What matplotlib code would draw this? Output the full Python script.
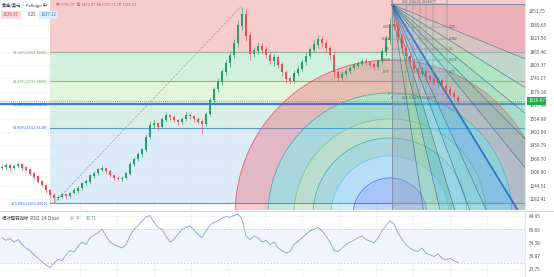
import numpy as np
import matplotlib.pyplot as plt
from matplotlib.patches import Polygon

plt.rcParams['font.family'] = ['Noto Sans CJK SC', 'DejaVu Sans']

# daily closes, one per bar
close = [1330, 1338, 1325, 1335, 1342, 1328, 1318, 1300, 1285, 1262,
         1245, 1222, 1200, 1185, 1192, 1202, 1196, 1210, 1220, 1232,
         1255, 1262, 1290, 1302, 1318, 1325, 1310, 1292, 1280, 1276,
         1280, 1300, 1342, 1368, 1390, 1410, 1470, 1525, 1532, 1518,
         1550, 1568, 1560, 1548, 1538, 1552, 1570, 1565, 1552, 1540,
         1530, 1575, 1640, 1690, 1725, 1772, 1812, 1850, 1905, 1985,
         2040, 1940, 1855, 1870, 1892, 1875, 1850, 1822, 1840, 1805,
         1770, 1740, 1730, 1765, 1785, 1815, 1845, 1875, 1898, 1920,
         1905, 1880, 1850, 1770, 1745, 1760, 1775, 1790, 1800, 1810,
         1822, 1815, 1805, 1795, 1820, 1865, 1920, 1990, 1985, 1935,
         1880, 1845, 1815, 1785, 1762, 1775, 1750, 1735, 1722, 1730,
         1705, 1690, 1672, 1655, 1637]
first_open = 1324
wick_hi = [8, 10, 6, 9, 12, 5, 7, 10, 6, 8,
           9, 6, 8, 12, 7, 10, 9, 6, 11, 8,
           7, 12, 9, 8, 10, 14, 6, 9, 7, 10,
           8, 6, 11, 9, 12, 10, 15, 18, 14, 9,
           12, 16, 8, 10, 7, 11, 14, 9, 8, 10,
           12, 10, 15, 12, 18, 14, 16, 20, 18, 25,
           30, 22, 15, 18, 20, 12, 15, 18, 12, 10,
           14, 12, 10, 16, 12, 15, 18, 14, 20, 22,
           18, 15, 12, 20, 10, 14, 12, 9, 11, 13,
           10, 15, 8, 12, 10, 18, 22, 30, 28, 20,
           18, 15, 12, 20, 14, 18, 10, 12, 14, 16,
           12, 10, 15, 9, 8]
wick_lo = [7, 9, 12, 6, 8, 10, 7, 9, 11, 6,
           8, 10, 7, 15, 9, 6, 12, 8, 7, 10,
           9, 7, 10, 12, 8, 6, 11, 9, 12, 8,
           10, 7, 9, 8, 11, 13, 10, 12, 16, 14,
           9, 11, 13, 8, 12, 10, 9, 14, 11, 12,
           45, 12, 10, 14, 12, 16, 13, 18, 15, 20,
           18, 25, 28, 15, 18, 20, 16, 12, 22, 15,
           18, 20, 16, 12, 14, 10, 12, 15, 13, 16,
           20, 18, 22, 25, 18, 12, 10, 14, 9, 12,
           11, 14, 10, 16, 12, 10, 14, 18, 20, 25,
           22, 18, 20, 15, 22, 14, 18, 16, 12, 20,
           14, 18, 12, 16, 10]
rsi = [60, 57, 59, 55, 58, 52, 48, 45, 40, 36,
       32, 28, 25, 30, 35, 33, 40, 45, 43, 50,
       55, 52, 60, 63, 66, 70, 62, 55, 52, 50,
       48, 52, 62, 70, 74, 80, 84, 86, 78, 72,
       70, 62, 55, 58, 64, 70, 72, 74, 69, 64,
       60, 68, 75, 78, 80, 83, 85, 84, 86, 88,
       82, 62, 58, 62, 60, 55, 57, 52, 55, 48,
       45, 42, 44, 52, 56, 60, 64, 68, 70, 72,
       68, 62, 55, 45, 44, 48, 52, 55, 57, 60,
       62, 58, 56, 54, 60, 68, 74, 80, 76, 66,
       58, 52, 48, 45, 44, 48, 42, 40, 38, 41,
       36, 34, 36, 33, 31]

price_ticks = [1182.41, 1244.51, 1306.60, 1368.70, 1430.79, 1492.89, 1554.98, 1617.08,
               1679.18, 1741.27, 1803.37, 1865.46, 1927.56, 1989.65, 2051.75]
rsi_ticks = [23.75, 39.07, 54.38, 69.66, 84.95]

fib_high, fib_low = 2079.0, 1163.0
fib_start = 12.0
fib_levels = [0.0, 0.236, 0.382, 0.5, 0.618, 1.0]
fib_labels = ['', '23.60%(1862.8240)', '38.20%(1729.0880)', '50.00%(1621.0000)',
              '61.80%(1512.9120)', '100.00%(1163.0000)']
fib_fill = ['#f6c4c4', '#cbeed9', '#ddf4d6', '#d3ebe2', '#d7e8f7']
fib_line = ['#e57373', '#8fb59a', '#8bc34a', '#3b7dd8', '#5b9bd5', '#5b9bd5']
fib_text = ['#e57373', '#4caf50', '#4caf50', '#2962ff', '#2962ff', '#2962ff']
last_price = 1636.97

# speed resistance fan (origin, box size in bars / price)
fan_x0, fan_y0 = 97.5, 2084.0
fan_w, fan_h = 13.75, 417.0
fan_levels = [0.25, 0.382, 0.5, 0.618, 0.75]
fan_fill = ['#d9899c', '#a9b3b3', '#7fcf9f', '#5fbf9f', '#4db6ac', '#6cc3cf',
            '#4f9fe8', '#48bde8', '#7fd0f5', '#4db6ac', '#88c98a', '#8fa8b5']

# arcs: centre (bar, price) and radii in pixels
arc_cx, arc_cy = 97.0, 1108.3
arc_r = [37, 59, 77, 96, 122, 155]
arc_col = ['#2962ff', '#4fc3f7', '#26a69a', '#66bb6a', '#26a69a', '#f23645']
px_bar, px_price = 4.0, 4.634

up_col, dn_col = '#1fa36a', '#e8505b'

fig = plt.figure(figsize=(5.54, 2.77), dpi=100)
ax = fig.add_axes([0, 1 - 210 / 277, 525 / 554, 210 / 277])
ax2 = fig.add_axes([0, 0, 525 / 554, 64 / 277])

n = len(close)
x = np.arange(n)
opens = np.array([first_open] + close[:-1], dtype=float)
closes = np.array(close, dtype=float)
highs = np.maximum(opens, closes) + np.array(wick_hi)
lows = np.minimum(opens, closes) - np.array(wick_lo)

ax.set_xlim(-0.5, 130.75)
ax.set_ylim(1131, 2104.6)
xmax = ax.get_xlim()[1]
ytop = ax.get_ylim()[1]

# grid
ax.set_xticks(np.arange(19.5, 131, 9.25))
ax.set_yticks(price_ticks)
ax.grid(True, color='#ececec', lw=0.4)
ax.set_axisbelow(True)

# fib retracement bands
fib_prices = [fib_high - lv * (fib_high - fib_low) for lv in fib_levels]
for k in range(len(fib_fill)):
    top = ytop if k == 0 else fib_prices[k]
    ax.fill_between([fib_start, xmax], fib_prices[k + 1], top, color=fib_fill[k], alpha=0.85, lw=0, zorder=1)
for k, p in enumerate(fib_prices):
    if k == 0:
        continue
    if fib_levels[k] == 0.5:
        ax.axhline(p, color=fib_line[k], lw=1.6, zorder=2)
    else:
        ax.plot([fib_start, xmax], [p, p], color=fib_line[k], lw=0.8, zorder=2)
    ax.text(fib_start - 0.6, p, fib_labels[k], fontsize=2.8, color=fib_text[k],
            ha='right', va='center', zorder=6)
ax.plot([13, 60], [fib_low, fib_high], color='#9e9e9e', lw=0.5, ls='--', zorder=2)

# arcs (upper half rings)
t = np.linspace(0, np.pi, 160)
for k in range(len(arc_r)):
    r_out = arc_r[k]
    r_in = arc_r[k - 1] if k > 0 else 0
    xo = arc_cx + r_out / px_bar * np.cos(t)
    yo = arc_cy + r_out * px_price * np.sin(t)
    xi = arc_cx + r_in / px_bar * np.cos(t[::-1])
    yi = arc_cy + r_in * px_price * np.sin(t[::-1])
    poly = np.column_stack([np.concatenate([xo, xi]), np.concatenate([yo, yi])])
    ax.add_patch(Polygon(poly, closed=True, fc=arc_col[k], alpha=0.28, lw=0, zorder=2.5))
    ax.plot(xo, yo, color=arc_col[k], lw=0.55, alpha=0.8, zorder=2.6)

# fan wedges
rays = [(fan_w, 0.0)] + [(fan_w, -r * fan_h) for r in fan_levels] + [(fan_w, -fan_h)]
rays += [(r * fan_w, -fan_h) for r in fan_levels[::-1]] + [(0.0, -fan_h)]
far = 20
for k in range(len(rays) - 1):
    p1 = (fan_x0 + far * rays[k][0], fan_y0 + far * rays[k][1])
    p2 = (fan_x0 + far * rays[k + 1][0], fan_y0 + far * rays[k + 1][1])
    ax.add_patch(Polygon([(fan_x0, fan_y0), p1, p2], closed=True, fc=fan_fill[k],
                         alpha=0.4, lw=0, zorder=3))
for k, (dx, dy) in enumerate(rays):
    lw = 1.3 if (dx == fan_w and dy == -fan_h) else 0.5
    col = '#1565c0' if lw > 1 else '#35698c'
    ax.plot([fan_x0, fan_x0 + far * dx], [fan_y0, fan_y0 + far * dy], color=col, lw=lw, alpha=0.8, zorder=3.5)
# box grid and labels
for r in [0.0] + fan_levels + [1.0]:
    yy = fan_y0 - r * fan_h
    xx = fan_x0 + r * fan_w
    ax.plot([fan_x0, fan_x0 + fan_w], [yy, yy], color='#888888', lw=0.35, zorder=3.6)
    ax.plot([xx, xx], [fan_y0, fan_y0 - fan_h], color='#888888', lw=0.35, zorder=3.6)
    lab = '%g' % r
    ax.text(xx, fan_y0 + 2, lab, fontsize=2.5, color='#555555', ha='center', va='bottom', zorder=7)
    ax.text(xx, fan_y0 - fan_h - 6, lab, fontsize=2.5, color='#555555', ha='center', va='top', zorder=7)
    if r > 0:
        ax.text(fan_x0 - 0.5, yy, lab, fontsize=2.5, color='#555555', ha='right', va='center', zorder=7)
        ax.text(fan_x0 + fan_w + 0.5, yy, lab, fontsize=2.5, color='#555555', ha='left', va='center', zorder=7)
ax.axvline(fan_x0, color='#999999', lw=0.4, zorder=3.6)

# candles
cols = [up_col if c >= o else dn_col for o, c in zip(opens, closes)]
ax.vlines(x, lows, highs, colors=cols, lw=0.45, zorder=5)
ax.bar(x, np.abs(closes - opens) + 1.5, bottom=np.minimum(opens, closes), width=0.62,
       color=cols, lw=0, zorder=5)

# last price line and tag
ax.axhline(last_price, color='#22ab94', lw=0.6, ls=(0, (1, 1.5)), zorder=6)
ax.text(xmax + 0.8, last_price, '%.2f' % last_price, fontsize=3.4, color='white',
        ha='left', va='center', zorder=8, clip_on=False,
        bbox=dict(boxstyle='square,pad=0.25', fc='#22ab4a', ec='none'))

ax.yaxis.tick_right()
ax.set_yticklabels(['%.2f' % v for v in price_ticks])
ax.tick_params(axis='y', labelsize=3.4, labelcolor='#555555', length=0, pad=3)
ax.tick_params(axis='x', length=0, labelbottom=False)
for s in ax.spines.values():
    s.set_visible(False)

# RSI panel
ax2.set_xlim(ax.get_xlim())
ax2.set_ylim(14, 89)
ax2.fill_between([-0.5, xmax], 30, 70, color='#f1f4fb', lw=0)
ax2.axhline(70, color='#b5b5b5', lw=0.4, ls=(0, (3, 3)))
ax2.axhline(30, color='#b5b5b5', lw=0.4, ls=(0, (3, 3)))
ax2.plot(x, rsi, color='#7fa2d2', lw=0.6)
ax2.set_xticks(np.arange(19.5, 131, 9.25))
ax2.set_yticks(rsi_ticks)
ax2.grid(True, color='#f0f0f0', lw=0.4)
ax2.set_axisbelow(True)
ax2.yaxis.tick_right()
ax2.set_yticklabels(['%.2f' % v for v in rsi_ticks])
ax2.tick_params(axis='y', labelsize=3.4, labelcolor='#555555', length=0, pad=3)
ax2.tick_params(axis='x', length=0, labelbottom=False)
for s in ax2.spines.values():
    s.set_visible(False)

# panel separators
fig.add_artist(plt.Line2D([0, 1], [1 - 211 / 277] * 2, color='#d0d0d0', lw=0.6))
fig.add_artist(plt.Line2D([525 / 554] * 2, [0, 1], color='#e0e0e0', lw=0.5))

# header texts
def ftext(px, py, s, **kw):
    fig.text(px / 554, 1 - py / 277, s, va='center', **kw)

ftext(2, 5, '黄金/美元 · Pellojgo 中', fontsize=3.0, color='#333333')
ftext(56, 5, '开 1796.07  高 1812.87  低 1757.71  收 1785.12', fontsize=2.8, color='#e05a5a')
ftext(3, 15, '1636.97', fontsize=3.2, color='#e04848',
      bbox=dict(boxstyle='square,pad=0.35', fc='#fbdada', ec='none'))
ftext(28, 15, '0.25', fontsize=3.2, color='#444444')
ftext(41, 15, '1637.12', fontsize=3.2, color='#2f7bd6',
      bbox=dict(boxstyle='square,pad=0.35', fc='#dcecfb', ec='none'))
ftext(2, 218, '相对强弱指标  RSI2  14 Close', fontsize=3.2, color='#444444')
ftext(70, 218, '◎  ⊙', fontsize=3.0, color='#777777', family=['DejaVu Sans'])
ftext(86, 218, '30.71', fontsize=3.2, color='#5b8fd6')

fig.savefig('out.png', dpi=100)
